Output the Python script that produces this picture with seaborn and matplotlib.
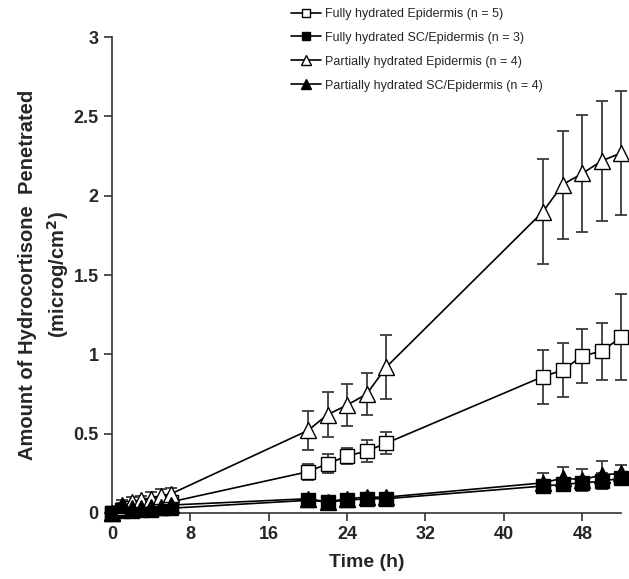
import numpy as np
import pandas as pd
import seaborn as sns
import matplotlib.pyplot as plt

# time points (h)
time_h = [0, 1, 2, 3, 4, 5, 6, 20, 22, 24, 26, 28, 44, 46, 48, 50, 52]

# mean amount penetrated (microg/cm2) and error bar half-widths
full_epi = [0.0, 0.02, 0.03, 0.04, 0.05, 0.06, 0.07, 0.26, 0.31, 0.36, 0.39, 0.44, 0.86, 0.90, 0.99, 1.02, 1.11]
full_epi_err = [0.0, 0.01, 0.01, 0.01, 0.02, 0.02, 0.02, 0.05, 0.06, 0.05, 0.07, 0.07, 0.17, 0.17, 0.17, 0.18, 0.27]

full_sc = [0.0, 0.01, 0.01, 0.02, 0.02, 0.03, 0.03, 0.08, 0.07, 0.08, 0.09, 0.09, 0.17, 0.18, 0.19, 0.20, 0.22]
full_sc_err = [0.0, 0.01, 0.01, 0.01, 0.01, 0.01, 0.01, 0.02, 0.02, 0.02, 0.02, 0.02, 0.04, 0.04, 0.04, 0.05, 0.04]

part_epi = [0.0, 0.04, 0.07, 0.08, 0.09, 0.11, 0.12, 0.52, 0.62, 0.68, 0.75, 0.92, 1.90, 2.07, 2.14, 2.22, 2.27]
part_epi_err = [0.0, 0.02, 0.03, 0.03, 0.04, 0.04, 0.04, 0.12, 0.14, 0.13, 0.13, 0.20, 0.33, 0.34, 0.37, 0.38, 0.39]

part_sc = [0.0, 0.05, 0.03, 0.03, 0.04, 0.04, 0.05, 0.09, 0.07, 0.09, 0.10, 0.10, 0.19, 0.22, 0.21, 0.24, 0.25]
part_sc_err = [0.0, 0.03, 0.01, 0.01, 0.01, 0.01, 0.01, 0.02, 0.02, 0.02, 0.02, 0.02, 0.06, 0.07, 0.07, 0.09, 0.05]

labels = ['Fully hydrated Epidermis (n = 5)',
          'Fully hydrated SC/Epidermis (n = 3)',
          'Partially hydrated Epidermis (n = 4)',
          'Partially hydrated SC/Epidermis (n = 4)']

series = [
    (full_epi, full_epi_err, 's', 'white'),
    (full_sc, full_sc_err, 's', 'black'),
    (part_epi, part_epi_err, '^', 'white'),
    (part_sc, part_sc_err, '^', 'black'),
]

sns.set_style('ticks')
plt.rcParams['font.family'] = ['Liberation Sans', 'DejaVu Sans']

fig, ax = plt.subplots(figsize=(6.29, 5.79), dpi=100)
fig.subplots_adjust(left=0.178, right=0.988, top=0.936, bottom=0.114)

for (vals, err, mk, fc), lab in zip(series, labels):
    df = pd.DataFrame({'time': time_h, 'amount': vals})
    ax.errorbar(df['time'], df['amount'], yerr=err, fmt='none', ecolor='#3a3a3a',
                elinewidth=1.3, capsize=4.5, capthick=1.3, zorder=2, clip_on=False)
    sns.lineplot(data=df, x='time', y='amount', ax=ax, color='black', linewidth=1.2,
                 marker=mk, markersize=10 if mk == 's' else 11, markerfacecolor=fc,
                 markeredgecolor='black', markeredgewidth=1.0, label=lab,
                 zorder=3, clip_on=False)

ax.set_xlim(0, 52)
ax.set_ylim(0, 3)
ax.set_xticks(np.arange(0, 49, 8))
ax.set_yticks([0, 0.5, 1, 1.5, 2, 2.5, 3])
ax.set_yticklabels(['0', '0.5', '1', '1.5', '2', '2.5', '3'])
sns.despine(ax=ax)
for sp in ['left', 'bottom']:
    ax.spines[sp].set_linewidth(1.2)
    ax.spines[sp].set_color('#333333')
ax.tick_params(axis='both', labelsize=13, width=1.2, length=6, color='#333333')
for t in ax.get_xticklabels() + ax.get_yticklabels():
    t.set_fontweight('bold')

ax.set_xlabel('Time (h)', fontsize=14, fontweight='bold', labelpad=8)
ax.set_ylabel('Amount of Hydrocortisone  Penetrated\n(microg/cm$^\\mathbf{2}$)',
              fontsize=14.5, fontweight='bold', labelpad=2, linespacing=1.4)

leg = ax.legend(loc='upper left', bbox_to_anchor=(0.455, 0.995), bbox_transform=fig.transFigure,
                frameon=False, fontsize=9, markerscale=0.6, handlelength=2.4,
                handletextpad=0.3, labelspacing=0.95, borderaxespad=0)

fig.savefig('out.png', dpi=100)
